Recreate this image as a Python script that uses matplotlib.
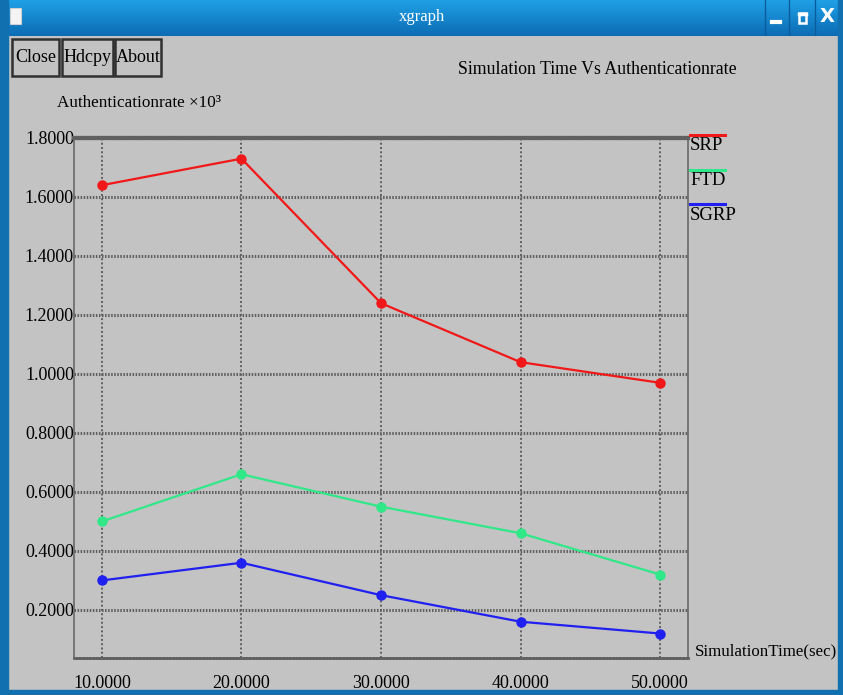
import numpy as np
import matplotlib.pyplot as plt
from matplotlib.colors import LinearSegmentedColormap
from matplotlib.patches import Rectangle, FancyBboxPatch

# simulation time (sec)
sim_time = [10, 20, 30, 40, 50]

# authentication rate (x10^3) per scheme
srp = [1.64, 1.73, 1.24, 1.04, 0.97]
ftd = [0.50, 0.66, 0.55, 0.46, 0.32]
sgrp = [0.30, 0.36, 0.25, 0.16, 0.12]

series = [("SRP", srp, "#f01818"), ("FTD", ftd, "#30e888"), ("SGRP", sgrp, "#2020f0")]

x_ticks = [10, 20, 30, 40, 50]
y_ticks = [0.2, 0.4, 0.6, 0.8, 1.0, 1.2, 1.4, 1.6, 1.8]

W, H = 843, 695
bg = "#c3c3c3"
grid_c = "#606060"
serif = "Liberation Serif"

fig = plt.figure(figsize=(W / 100, H / 100), dpi=100)
fig.patch.set_facecolor(bg)


def px(x, y):
    # pixel (top-left origin) -> figure fraction
    return x / W, 1 - y / H


# window frame: blue border
for (x0, y0, w, h) in [(0, 0, 8, H), (W - 5, 0, 5, H), (0, H - 5, W, 5)]:
    fig.patches.append(Rectangle((x0 / W, 1 - (y0 + h) / H), w / W, h / H,
                                 transform=fig.transFigure, color="#1070b0", zorder=0))

# title bar gradient
grad = np.linspace(0, 1, 64).reshape(-1, 1)
tb = fig.add_axes([0, 1 - 36 / H, 1, 36 / H])
tb.imshow(grad, aspect="auto", extent=[0, W, 36, 0],
          cmap=LinearSegmentedColormap.from_list("tb", ["#1fa0e6", "#0c6cb4"]))
tb.set_xlim(0, W)
tb.set_ylim(36, 0)
tb.axis("off")
tb.text(W / 2, 17, "xgraph", ha="center", va="center", color="white",
        fontsize=12, family=serif)
tb.add_patch(FancyBboxPatch((11, 9), 10, 15, boxstyle="round,pad=0.5",
                            fc="#f4f4f4", ec="#d0d0d0", lw=0.8))
for xs in [765, 789, 815]:
    tb.plot([xs, xs], [0, 36], color="#0a5c9c", lw=1)
tb.plot([772, 780], [22, 22], color="white", lw=3)
tb.add_patch(Rectangle((799, 13), 7, 10, fc="none", ec="white", lw=1.8))
tb.plot([799, 806], [14, 14], color="white", lw=2.5)
tb.text(827, 17, "X", ha="center", va="center", color="white", fontsize=14,
        family="DejaVu Sans", fontweight="bold")

# buttons
for label, x0, x1 in [("Close", 12, 59), ("Hdcpy", 62, 113), ("About", 115, 161)]:
    fx, fy = px(x0, 76)
    fig.patches.append(Rectangle((fx, fy), (x1 - x0) / W, 37 / H, transform=fig.transFigure,
                                 fc=bg, ec="#303030", lw=1.8, zorder=1))
    tx, ty = px((x0 + x1) / 2, 57)
    fig.text(tx, ty, label, ha="center", va="center", fontsize=13, family=serif)

# titles
fig.text(*px(597, 70), "Simulation Time Vs Authenticationrate", ha="center", va="center",
         fontsize=12.8, family=serif)
fig.text(*px(57, 103), "Authenticationrate \u00d710\u00b3", ha="left", va="center",
         fontsize=12.3, family=serif)
fig.text(*px(695, 651), "SimulationTime(sec)", ha="left", va="center",
         fontsize=12.2, family=serif)

# plot area
left, right, top, bottom = 74, 688, 138, 658
ax = fig.add_axes([left / W, 1 - bottom / H, (right - left) / W, (bottom - top) / H])
ax.set_facecolor(bg)
ax.set_xlim(8.0, 52.0)
ax.set_ylim(0.037, 1.8)

for s in ax.spines.values():
    s.set_color(grid_c)
    s.set_linestyle((0, (1, 1)))
    s.set_linewidth(1.1)
ax.spines["top"].set_linewidth(3)
ax.spines["top"].set_linestyle((0, (0.4, 0.4)))
ax.spines["bottom"].set_linewidth(2)
ax.spines["bottom"].set_linestyle((0, (0.6, 0.6)))

for yt in y_ticks:
    ax.axhline(yt, color=grid_c, lw=2.2, ls=(0, (0.5, 0.5)), zorder=1)
for xt in x_ticks:
    ax.axvline(xt, color=grid_c, lw=1.4, ls=(0, (1, 1.2)), zorder=1)

ax.set_xticks(x_ticks)
ax.set_yticks(y_ticks)
ax.set_xticklabels([f"{v:.4f}" for v in x_ticks], family=serif, fontsize=13)
ax.set_yticklabels([f"{v:.4f}" for v in y_ticks], family=serif, fontsize=13)
ax.tick_params(length=0, pad=0)
ax.tick_params(axis="x", pad=12)

for name, vals, color in series:
    ax.plot(sim_time, vals, color=color, lw=1.6, marker="o", ms=6.5, zorder=3, clip_on=False)

# legend at right edge
for i, (name, vals, color) in enumerate(series):
    ly = 135 + i * 34.5
    fig.lines.append(plt.Line2D([690 / W, 725 / W], [1 - ly / H] * 2, color=color, lw=2.2,
                                transform=fig.transFigure))
    fig.text(*px(690, ly + 11), name, ha="left", va="center", fontsize=13.5, family=serif)

fig.savefig("out.png", dpi=100, facecolor=bg)
